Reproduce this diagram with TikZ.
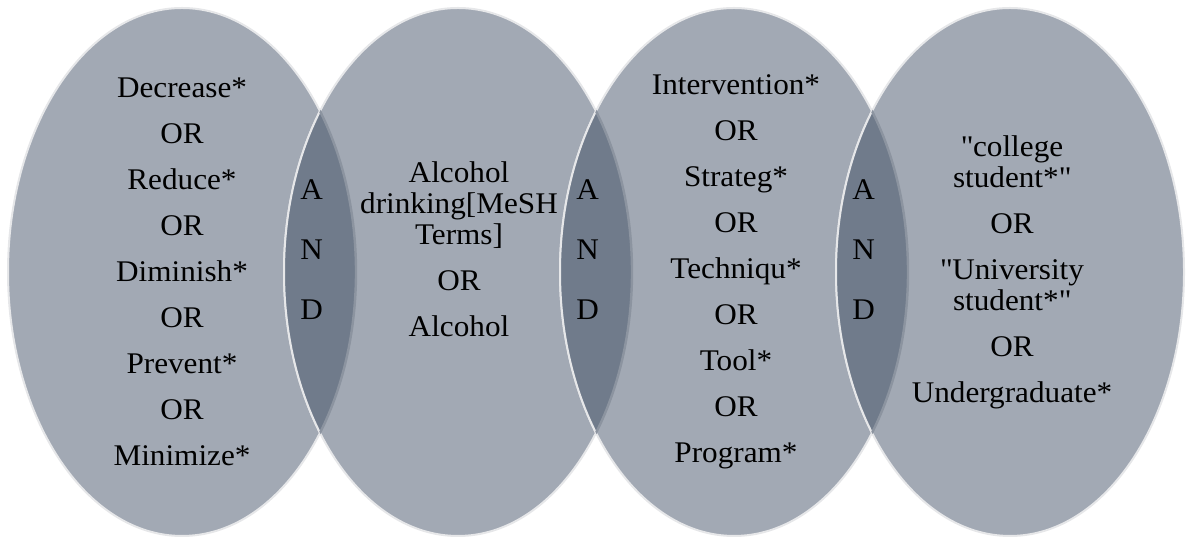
\documentclass[tikz,border=0pt]{standalone}
\usepackage{fontspec}
\setmainfont{Liberation Serif}[FakeStretch=1.04]
\usetikzlibrary{calc}
\definecolor{setgray}{HTML}{A2A9B4}
\definecolor{andgray}{HTML}{707B8B}
\definecolor{rimgray}{HTML}{E6E7E9}
\definecolor{lensrim}{HTML}{8C94A0}
\def\ItemGap{7.5pt}
\def\Q{\textquotedbl}
\def\SetOval#1{%
 \path[set oval] (#1,267) ellipse [x radius=174, y radius=264];
}
\def\AndLens#1#2#3{%
\begin{scope}
  \clip (#1,267) ellipse [x radius=174, y radius=264];
  \path[set oval, fill=andgray] (#2,267) ellipse [x radius=174, y radius=264];
\end{scope}
\begin{scope}
  \clip (#2,267) ellipse [x radius=174, y radius=264];
  \draw[lensrim, line width=1.2pt] (#1,267) ellipse [x radius=174, y radius=264];
\end{scope}
\node (#3) [and letter] at ($(#1,289)!0.47!(#2,289)$) {A\\N\\D};
}
\tikzset{x=0.5pt, y=0.5pt,
  set oval/.style={fill=setgray, draw=rimgray, line width=1pt},
  set terms/.style={align=center, font=\fontsize{15}{15.5}\selectfont},
  and letter/.style={align=center, font=\fontsize{15}{30}\selectfont}
}
\begin{document}
\begin{tikzpicture}
\useasboundingbox (0,0) rectangle (1188,539);
\SetOval{182}
\SetOval{458}
\SetOval{734}
\SetOval{1010}
\AndLens{182}{458}{and1}
\AndLens{458}{734}{and2}
\AndLens{734}{1010}{and3}
%\node[set terms] at (182,520) {};
\node (reduce) [set terms] at (182,267) {Decrease*\\[\ItemGap]OR\\[\ItemGap]Reduce*\\[\ItemGap]OR\\[\ItemGap]Diminish*\\[\ItemGap]OR\\[\ItemGap]Prevent*\\[\ItemGap]OR\\[\ItemGap]Minimize*};
\node (alcohol) [set terms] at (459,290) {Alcohol\\drinking[MeSH\\Terms]\\[\ItemGap]OR\\[\ItemGap]Alcohol};
\node (method) [set terms] at (736,267) {Intervention*\\[\ItemGap]OR\\[\ItemGap]Strateg*\\[\ItemGap]OR\\[\ItemGap]Techniqu*\\[\ItemGap]OR\\[\ItemGap]Tool*\\[\ItemGap]OR\\[\ItemGap]Program*};
\node (student) [set terms] at (1012,267) {\Q college\\student*\Q\\[\ItemGap]OR\\[\ItemGap]\Q University\\student*\Q\\[\ItemGap]OR\\[\ItemGap]Undergraduate*};
\end{tikzpicture}
\end{document}
